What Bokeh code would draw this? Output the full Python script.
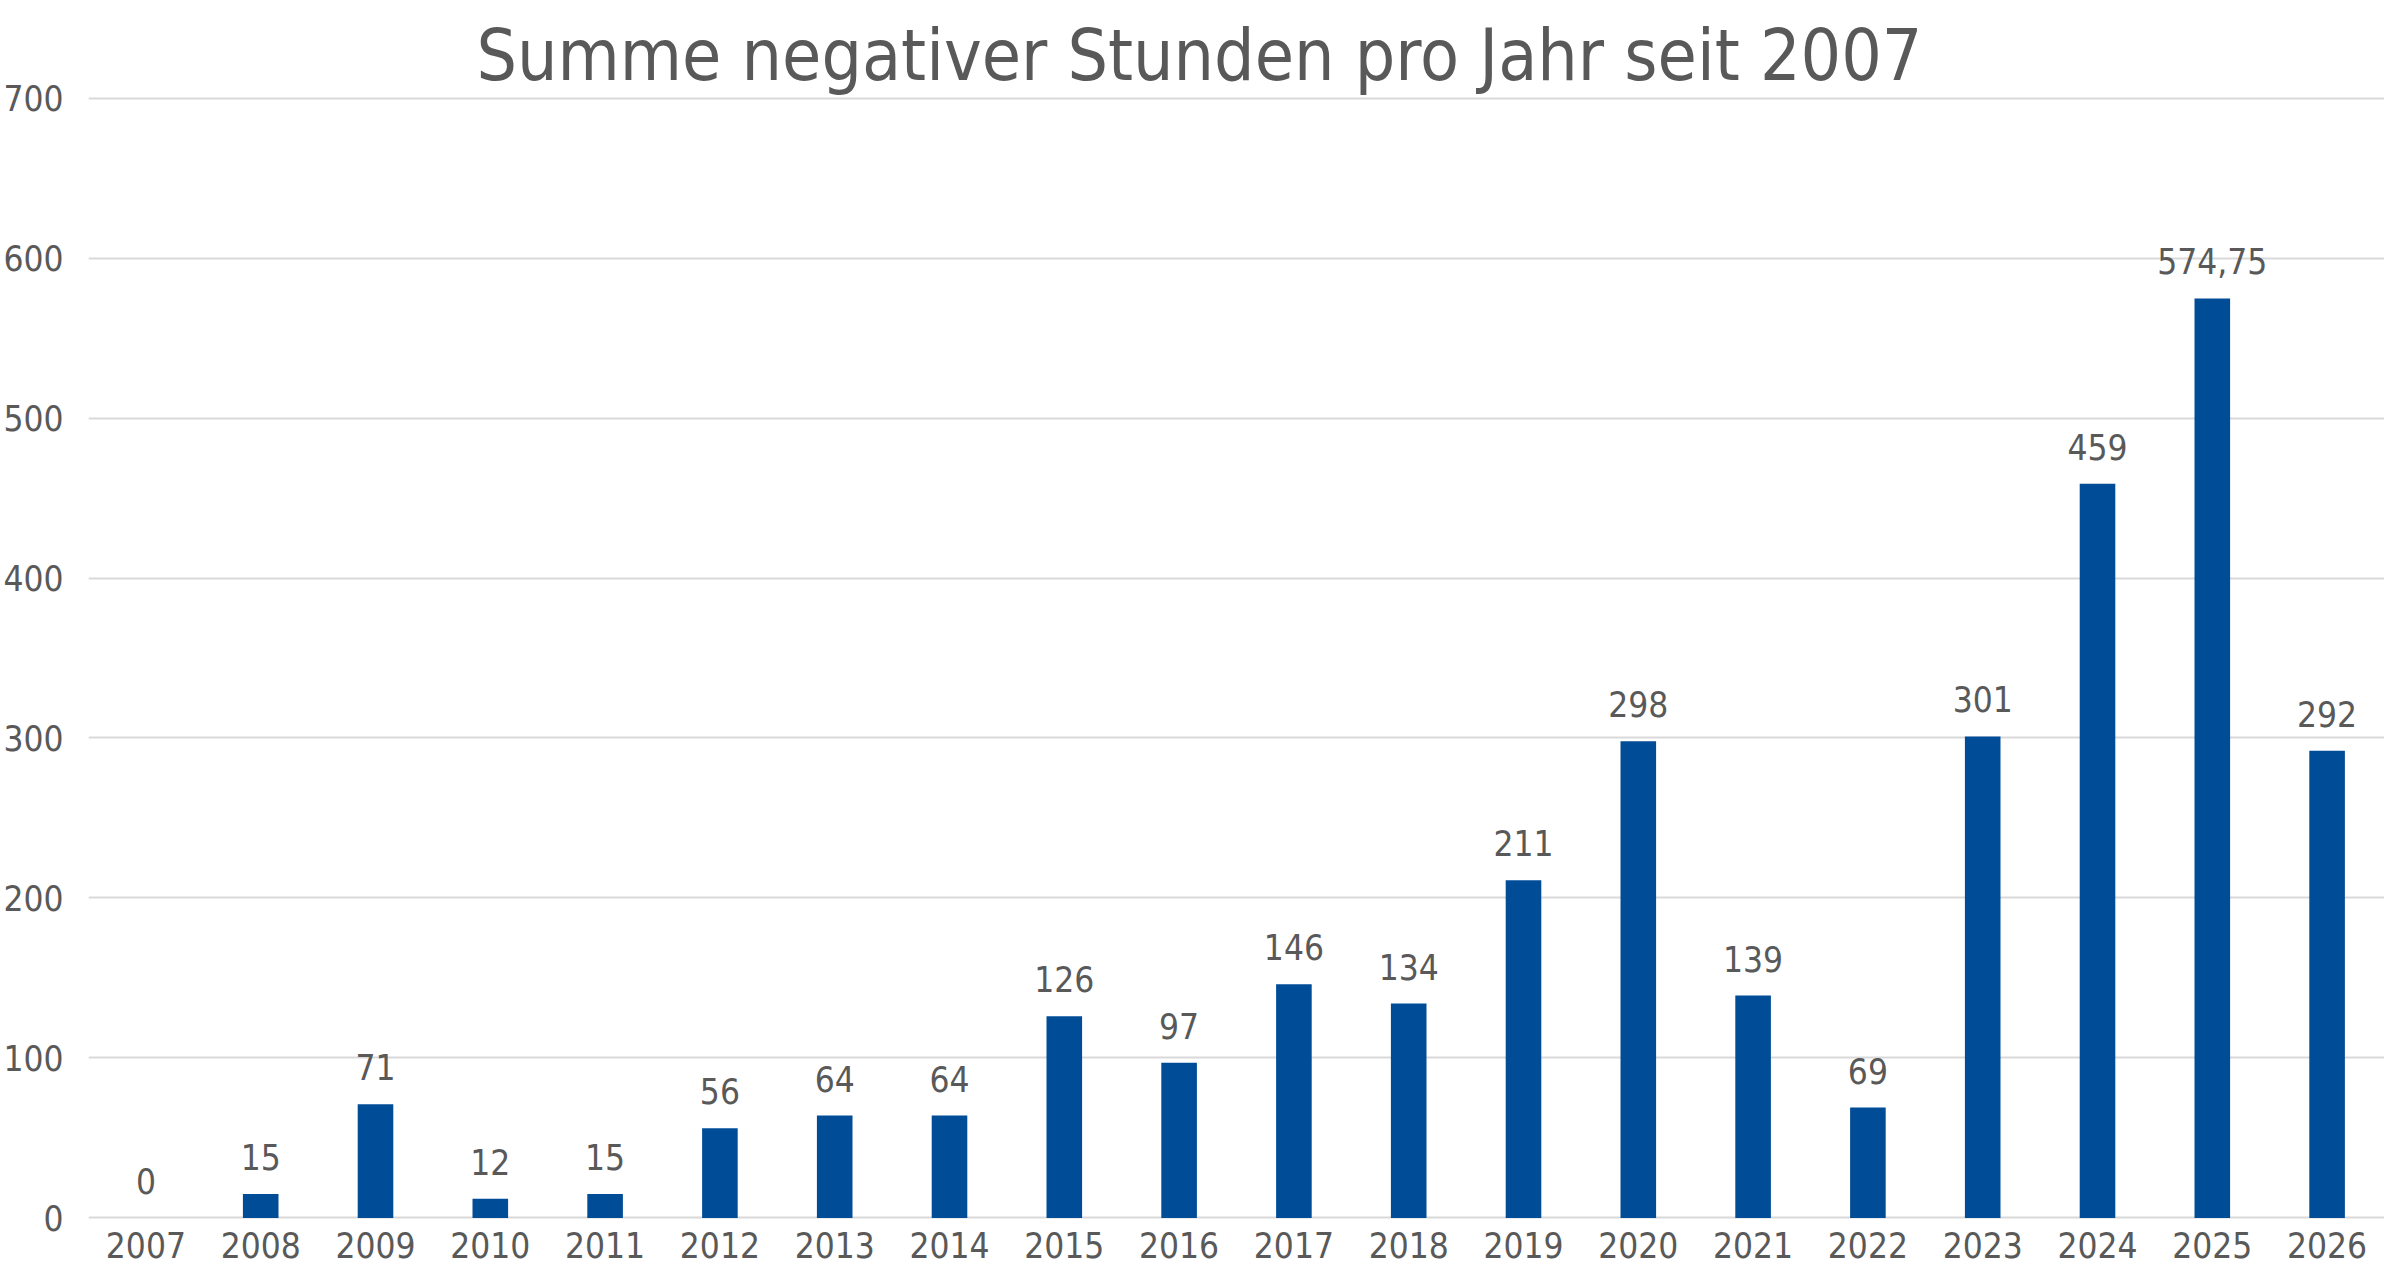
from bokeh.plotting import figure
from bokeh.models import ColumnDataSource, FactorRange, Range1d, FixedTicker
from bokeh.core.properties import value
from bokeh.embed import file_html
from bokeh.resources import INLINE

# ---- data ----
years = ["2007", "2008", "2009", "2010", "2011", "2012", "2013", "2014", "2015", "2016",
         "2017", "2018", "2019", "2020", "2021", "2022", "2023", "2024", "2025", "2026"]
hours = [0, 15, 71, 12, 15, 56, 64, 64, 126, 97,
         146, 134, 211, 298, 139, 69, 301, 459, 574.75, 292]
y_ticks = [0, 100, 200, 300, 400, 500, 600, 700]
title_text = "Summe negativer Stunden pro Jahr seit 2007"


def fmt(v):
    if float(v).is_integer():
        return str(int(v))
    return ("%g" % v).replace(".", ",")


labels = [fmt(v) for v in hours]

FONT = "DejaVu Sans Condensed"
GRAY = "#595959"
BLUE = "#004C97"

src = ColumnDataSource(dict(year=years, hours=hours, label=labels))

p = figure(
    x_range=FactorRange(factors=years, range_padding=0),
    y_range=Range1d(-1, 701),
    width=2384, height=1269,
    output_backend="svg", toolbar_location=None,
    min_border_left=76, min_border_right=0,
    min_border_top=96, min_border_bottom=50,
)

p.title.text = title_text
p.title.align = "left"
p.title.offset = 388
p.title.standoff = 0
p.title.text_font = FONT
p.title.text_font_size = "71px"
p.title.text_font_style = "normal"
p.title.text_color = GRAY

p.outline_line_color = None
p.background_fill_color = "white"
p.border_fill_color = "white"

p.xgrid.grid_line_color = None
p.ygrid.grid_line_color = "#D9D9D9"
p.ygrid.grid_line_width = 2

p.yaxis.ticker = FixedTicker(ticks=y_ticks)
for ax in (p.xaxis, p.yaxis):
    ax.axis_line_color = None
    ax.major_tick_line_color = None
    ax.minor_tick_line_color = None
    ax.major_label_text_font = FONT
    ax.major_label_text_font_size = "35px"
    ax.major_label_text_color = GRAY
p.yaxis.major_label_standoff = 19
p.xaxis.major_label_standoff = 6

p.vbar(x="year", top="hours", width=0.31, source=src,
       fill_color=BLUE, line_color=None)

p.text(x="year", y="hours", text="label", source=src,
       text_align="center", text_baseline="middle", y_offset=-37,
       text_font=value(FONT), text_font_size="35px", text_color=GRAY)

open("out.html", "w").write(file_html(p, INLINE))
